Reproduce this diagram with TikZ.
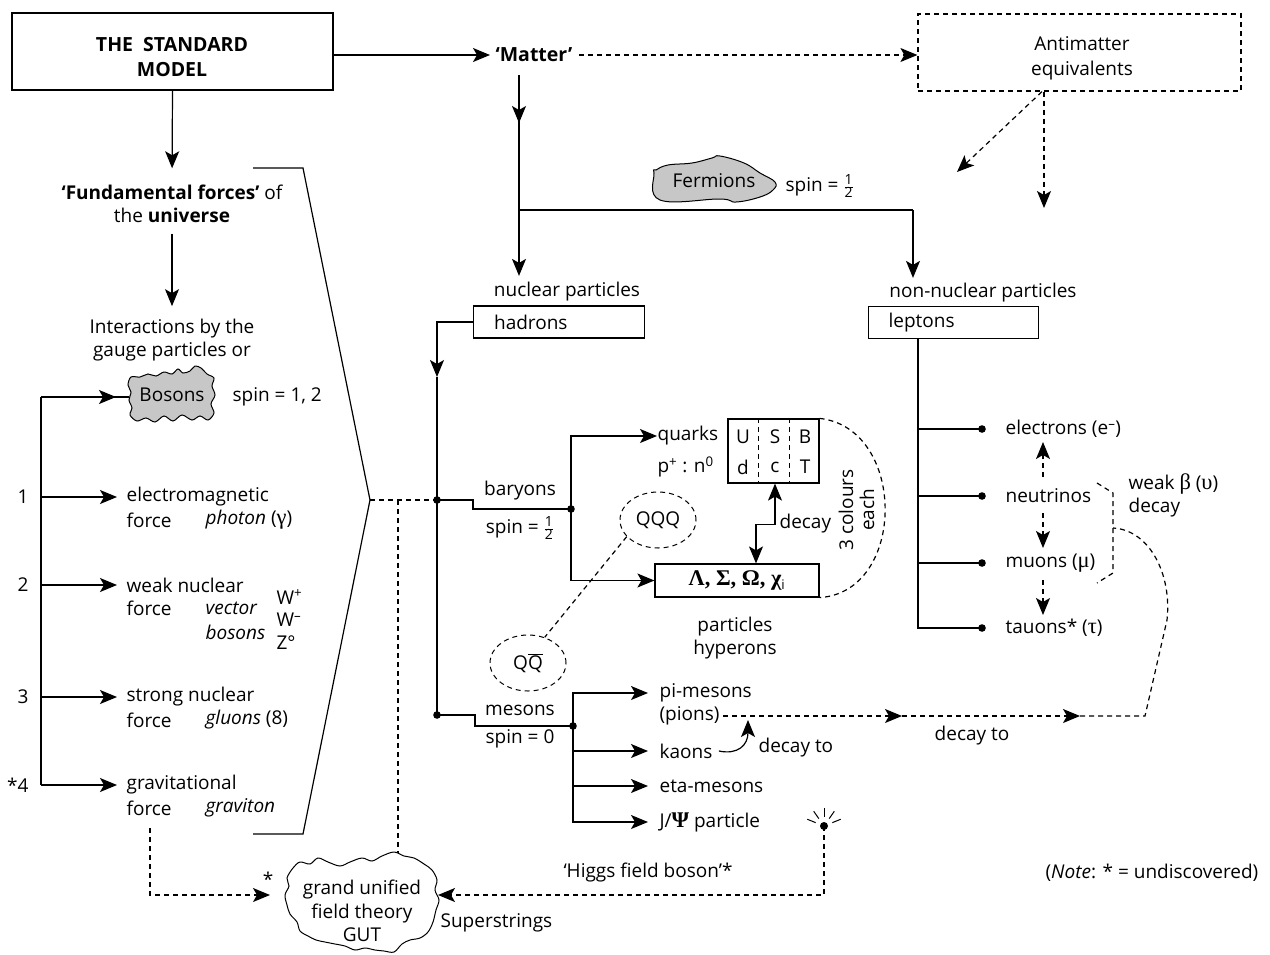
\documentclass[tikz,border=0pt]{standalone}
\usepackage{fontspec}
\setmainfont{Open Sans}
\newfontfamily\grk[Scale=1.18]{Liberation Serif}
\usetikzlibrary{arrows.meta,calc,shapes.geometric}
\newcommand\halfsm{\ensuremath{\frac{\mbox{\fontsize{14}{14}\selectfont 1}}{\mbox{\fontsize{14}{14}\selectfont 2}}}}
\begin{document}
\begin{tikzpicture}[x=1pt,y=-1pt, line width=1.2pt,
  every node/.style={inner sep=0pt, font=\fontsize{19}{23.5}\selectfont},
  arr/.style={-{Stealth[length=17pt,width=14pt,inset=4pt]}},
  dblarr/.style={{Stealth[length=17pt,width=14pt,inset=4pt]}-{Stealth[length=17pt,width=14pt,inset=4pt]}},
  dsh/.style={dash pattern=on 5pt off 4pt},
  boxn/.style={draw, inner sep=0pt},
  cloudfill/.style={draw, fill=black!22, line width=1pt},
  bf/.style={font=\bfseries\fontsize{19.5}{25}\selectfont},
]
\useasboundingbox (0,0) rectangle (1270,954);

% ---------- top row ----------
\node[boxn, minimum width=321pt, minimum height=77pt] (sm) at (172.5,51.5) {};
\node[bf, align=center] (smt) at (172,57) {THE\ \ STANDARD\\MODEL};
\node[bf, anchor=west] (matter) at (495,55) {‘Matter’};
\node[boxn, dsh, minimum width=323pt, minimum height=77pt] (anti) at (1079.5,52.5) {};
\node[align=center, font=\fontsize{19}{25}\selectfont] (antit) at (1082,58) {Antimatter\\equivalents};
\draw[arr] ([yshift=-3.5pt]sm.east) -- ([xshift=-5pt]matter.west);
\draw[arr,dsh] ([xshift=6pt]matter.east) -- (matter.east -| anti.west);
\coordinate (ae1) at (957,172);
\coordinate (ae2) at (1044,208);
\draw[arr,dsh] ([xshift=-37.5pt]anti.south) -- (ae1);
\draw[arr,dsh] (anti.south -| ae2) -- (ae2);

% ---------- matter branch ----------
\coordinate (mtop) at (519,75);
\coordinate (fj) at (519,210);
\coordinate (lj) at (913,210);
\draw (mtop) -- (fj);
\draw[arr] (mtop) -- ++(0,48);
\draw (fj) -- (lj);

\draw[cloudfill] plot[smooth cycle, tension=0.7] coordinates {(654,173) (660,200) (720,199) (736,202) (760,197) (773,190) (775,182) (760,173) (744,163) (720,156) (712,158) (692,163) (668,165) (656,170)};
\node (ferm) at (714,181) {Fermions};
\node[anchor=west] (fspin) at (785,186) {spin = \halfsm};

\node (npt) at (567,292) {nuclear particles};
\node[boxn, anchor=west, minimum width=171pt, minimum height=32pt, text width=130pt, inner xsep=20.5pt, align=left] (had) at (473,322) {hadrons};
\node (nnp) at (983,293) {non-nuclear particles};
\node[boxn, anchor=west, minimum width=170pt, minimum height=32pt, text width=130pt, inner xsep=20pt, align=left] (lep) at (868,322.5) {leptons};
\draw[arr, shorten >=6pt] (fj) -- (fj |- npt.north);
\draw[arr, shorten >=5pt] (lj) -- (lj |- nnp.north);

% ---------- hadrons ----------
\coordinate (bdot) at (437,500);
\coordinate (mdot) at (437,715);
\coordinate (harr) at (437,377);
\draw[arr] (had.west) -| (harr);
\draw (harr) -- (mdot);

% bracket
\coordinate (vx) at (370,500);
\coordinate (gd) at (398,500);
\coordinate (gtop) at (398,854);
\draw (253,168) -- (303,168) -- (vx) -- (303,834) -- (253,834);
\draw[dsh] (vx) -- (bdot);
\draw[dsh] (gd) -- (gtop);

% baryons
\coordinate (bdot2) at (571,509);
\draw (bdot) -- (473,500) -- (473,509) -- (bdot2);
\node (bary) at (520,491) {baryons};
\node (bspin) at (520,528) {spin = \halfsm};
\node[anchor=west] (qk) at (657,436) {quarks};
\node[anchor=west] (pn) at (657,467) {p\textsuperscript{+} : n\textsuperscript{0}};
\node[boxn, minimum width=91pt, minimum height=64pt] (qbox) at (773.5,451) {};
\draw[dsh, line width=0.9pt] ([xshift=31pt]qbox.north west) -- ([xshift=31pt]qbox.south west);
\draw[dsh, line width=0.9pt] ([xshift=62pt]qbox.north west) -- ([xshift=62pt]qbox.south west);
\node at (743,437) {U}; \node at (775,437) {S}; \node at (805,437) {B};
\node at (743,467) {d}; \node at (775,467) {c}; \node at (805,467) {T};
\node[boxn, minimum width=164pt, minimum height=33pt] (hyp) at (737,580.5) {{\grk\bfseries Λ, Σ, Ω, χ}\textsubscript{i}};
\draw[arr] (bdot2) |- (qk.west);
\draw[arr] (bdot2) |- (hyp.west);
\draw[dblarr] ([xshift=19pt]hyp.north) -- ++(0,-39) -| ([xshift=1.5pt]qbox.south);
\node[anchor=west] (dec) at (779,524) {decay};
\draw[dsh] (qbox.north east) .. controls (907,428) and (907,592) .. (hyp.south east);
\node[rotate=90] (c3) at (846,510) {3 colours};
\node[rotate=90] (c4) at (867,510) {each};
\node[draw, dsh, ellipse, minimum width=76pt, minimum height=56pt, line width=1pt] (qqq) at (658,520) {QQQ};
\node[draw, dsh, ellipse, minimum width=76pt, minimum height=56pt, line width=1pt] (qqb) at (528,663) {Q$\overline{\mbox{Q}}$};
\draw[dsh] (qqq.208) -- (qqb.57);
\node[align=center] (phy) at (735,638) {particles\\hyperons};

% mesons
\coordinate (mdot2) at (573,726);
\draw (mdot) -- (475,715) -- (475,726) -- (mdot2);
\node (mes) at (520,710) {mesons};
\node (mspin) at (520,739) {spin = 0};
\node[anchor=west] (pim) at (659,693) {pi-mesons};
\node[anchor=west] (pio) at (659,716) {(pions)};
\node[anchor=west] (kao) at (659,751) {kaons};
\node[anchor=west] (eta) at (659,786) {eta-mesons};
\node[anchor=west] (jps) at (659,822) {J/{\grk\bfseries Ψ} particle};
\draw[arr, shorten >=11pt] (mdot2) |- (pim.west);
\draw[arr, shorten >=11pt] (mdot2) |- (kao.west);
\draw[arr, shorten >=11pt] (mdot2) |- (eta.west);
\draw[arr, shorten >=11pt] (mdot2) |- (jps.west);
\coordinate (kd) at (748,720);
\draw[arr] ([xshift=6pt]kao.east) .. controls (738,755) and (748,745) .. (kd);
\node[anchor=west] (dto1) at (758,748) {decay to};
\coordinate (d1) at (902,716);
\coordinate (d2) at (1080,716);
\coordinate (d3) at (1145,716);
\coordinate (wb) at (1113,528);
\draw[dsh,arr] ([xshift=3pt]pio.east) -- (d1);
\draw[dsh,arr] (d1) -- (d2);
\draw[dsh] (d2) -- (d3) -- (1167,620) .. controls (1172,575) and (1150,530) .. (wb);
\node (dto2) at (972,736) {decay to};

% leptons
\coordinate (ld1) at (982,429);
\coordinate (ld2) at (982,496);
\coordinate (ld3) at (982,563);
\coordinate (ld4) at (982,628);
\coordinate (lv) at (918,338);
\draw ([xshift=50pt]lep.south west) |- (ld4);
\draw (ld1 -| lv) -- (ld1);
\draw (ld2 -| lv) -- (ld2);
\draw (ld3 -| lv) -- (ld3);
\node[anchor=west] (ele) at (1005,429) {electrons (e\textsuperscript{–})};
\node[anchor=west] (neu) at (1005,496) {neutrinos};
\node[anchor=west] (muo) at (1005,563) {muons ({\grk μ})};
\node[anchor=west] (tau) at (1005,628) {tauons* ({\grk τ})};
\coordinate (na1) at (1043,477); \coordinate (na2) at (1043,442);
\coordinate (nb1) at (1043,513); \coordinate (nb2) at (1043,548);
\coordinate (nc1) at (1043,580); \coordinate (nc2) at (1043,615);
\draw[dsh,arr] (na1) -- (na2);
\draw[dsh,arr] (nb1) -- (nb2);
\draw[dsh,arr] (nc1) -- (nc2);
\draw[dsh] (1097,483) -- (1113,493) -- (1113,573) -- (1097,583);
\node[anchor=west] (wk1) at (1128,484) {weak {\grk β} ({\grk υ})};
\node[anchor=west] (wk2) at (1128,508) {decay};

% ---------- left column ----------
\node[align=center] (ff) at (172,204) {\textbf{‘Fundamental forces’} of\\the \textbf{universe}};
\draw[arr, shorten >=16pt] (sm.south) -- (ff.north);
\node[align=center] (inter) at (172,340) {Interactions by the\\gauge particles or};
\draw[arr, shorten <=10pt, shorten >=12pt] (ff.south) -- (inter.north);

\draw[cloudfill] plot[smooth cycle, tension=0.55] coordinates {(131,377) (128,385) (131,392) (129,400) (132,408) (130,415) (137,421) (146,418) (155,422) (164,416) (173,421) (182,415) (192,420) (200,416) (208,420) (214,413) (211,404) (215,395) (212,386) (214,378) (207,374) (201,368) (195,366) (190,371) (183,373) (178,369) (172,374) (164,372) (156,376) (148,374) (140,377)};
\node (bos) at (172,395) {Bosons};
\node[anchor=west] (bspin2) at (232,397) {spin = 1, 2};

\coordinate (sp1) at (41,397);
\coordinate (sp2) at (41,497);
\coordinate (sp3) at (41,585);
\coordinate (sp4) at (41,697);
\coordinate (sp5) at (41,785);
\coordinate (bosa) at (116,397);
\coordinate (bosl) at (129,397);
\draw (sp1) -- (sp5);
\draw (sp1) -- (bosl);
\draw[arr] (sp1) -- (bosa);

\node[anchor=west] (em) at (126,497) {electromagnetic};
\node[anchor=west] (emf) at (126,520) {force};
\node[anchor=west] (emp) at (205,520) {\textit{photon} ({\grk γ})};
\node[anchor=west] (wk) at (126,585) {weak nuclear};
\node[anchor=west] (wkf) at (126,608) {force};
\node[anchor=west] (wkv) at (205,608) {\textit{vector}};
\node[anchor=west] (wkb) at (205,632) {\textit{bosons}};
\node[anchor=west] (wp) at (276,597) {W\textsuperscript{+}};
\node[anchor=west] (wm) at (276,620) {W\textsuperscript{–}};
\node[anchor=west] (zo) at (276,643) {Z°};
\node[anchor=west] (st) at (126,697) {strong nuclear};
\node[anchor=west] (stf) at (126,720) {force};
\node[anchor=west] (stg) at (205,720) {\textit{gluons} (8)};
\node[anchor=west] (gr) at (126,785) {gravitational};
\node[anchor=west] (grf) at (126,808) {force};
\node[anchor=west] (grg) at (205,808) {\textit{graviton}};
\draw[arr, shorten >=9pt] (sp2) -- (em.west);
\draw[arr, shorten >=9pt] (sp3) -- (wk.west);
\draw[arr, shorten >=9pt] (sp4) -- (st.west);
\draw[arr, shorten >=9pt] (sp5) -- (gr.west);
\node[anchor=east] (n1) at (29,497) {1};
\node[anchor=east] (n2) at (29,585) {2};
\node[anchor=east] (n3) at (29,697) {3};
\node[anchor=east] (n4) at (29,785) {*4};

% ---------- GUT ----------
\draw[line width=1pt, fill=white] plot[smooth cycle, tension=0.55] coordinates {(293,868) (300,862) (310,864) (318,858) (328,862) (340,866) (350,862) (362,858) (372,861) (382,856) (394,852) (404,856) (414,858) (424,864) (432,870) (437,880) (435,890) (439,900) (436,910) (433,922) (428,932) (420,938) (410,940) (402,944) (394,952) (384,951) (375,950) (365,948) (355,950) (345,946) (335,944) (325,942) (316,940) (308,936) (300,931) (297,922) (290,914) (287,905) (285,895) (289,886) (287,878)};
\node[align=center] (gut) at (362,911) {grand unified\\field theory\\GUT};
\coordinate (gs) at (150,828);
\coordinate (gl) at (270,895);
\draw[dsh,arr] (gs) |- (gl);
\node (star) at (268,879) {*};

\coordinate (hd) at (824,826);
\coordinate (gr8) at (438,895);
\fill (hd) circle (4pt);
\foreach \a in {-90,-125,-55,-158,-22}
  \draw[line width=1pt] ($(hd)+(\a:9)$) -- ($(hd)+(\a:18)$);
\draw[dsh,arr] (hd) |- (gr8);
\node (higgs) at (648,873) {‘Higgs field boson’*};
\node[anchor=west] (sup) at (440,923) {Superstrings};
\node[anchor=west] (note) at (1045,873) {(\textit{Note}: * = undiscovered)};

% dots
\foreach \p in {bdot,bdot2,mdot,mdot2,ld1,ld2,ld3,ld4}
  \fill (\p) circle (3.8pt);
\end{tikzpicture}
\end{document}
